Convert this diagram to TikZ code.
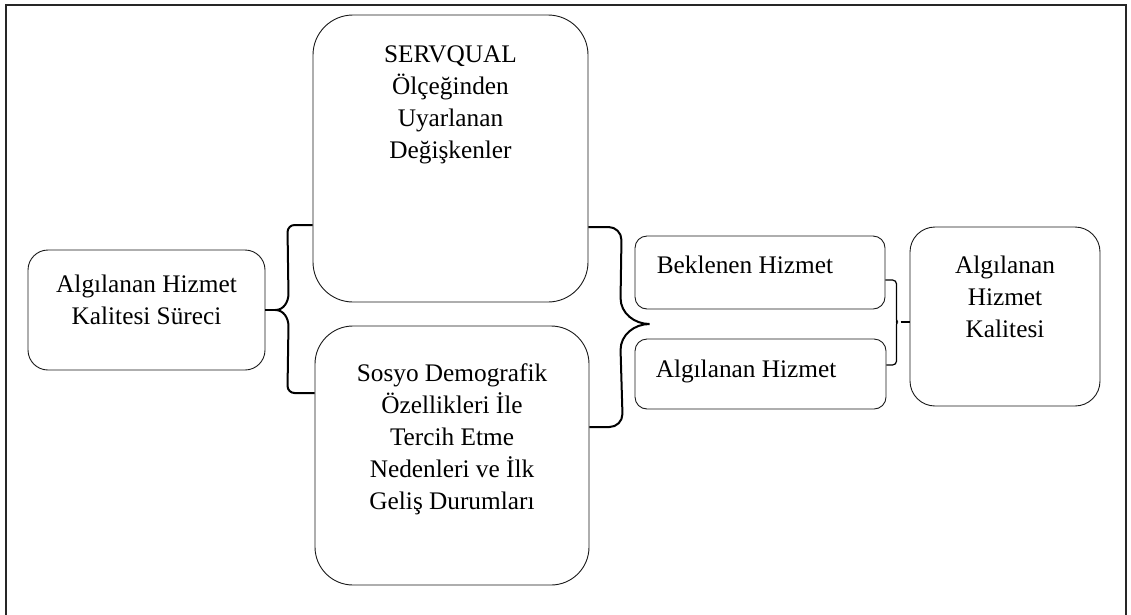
\documentclass[tikz,border=0pt]{standalone}
\usepackage{fontspec}
\setmainfont{Liberation Serif}
\usetikzlibrary{calc,positioning}
\newcommand\boxfont{\fontsize{25.3}{32}\selectfont}

\begin{document}
\begin{tikzpicture}[x=1pt, y=-1pt,
	pbox/.style={draw=black!90, line width=0.9pt, inner sep=0pt},
	txt/.style={inner sep=0pt, align=center, font=\boxfont},
	brc/.style={line width=2pt},
	thinbrc/.style={line width=1.2pt}]
	\useasboundingbox (0,0) rectangle (1131,614);
	\clip (0,0) rectangle (1131,614);
	\draw[line width=2.5pt, black!85] (6,5) rectangle (1126,640);

	\node[pbox, rounded corners=20pt, minimum width=237pt, minimum height=120pt] (sur) at (146.5,310) {};
	\node[pbox, rounded corners=40pt, minimum width=275pt, minimum height=287pt] (serv) at (450.5,158.5) {};
	\node[pbox, rounded corners=38pt, minimum width=274pt, minimum height=259pt] (sos) at (452,455.5) {};
	\node[pbox, rounded corners=12pt, minimum width=250pt, minimum height=73pt] (bek) at (760,272.5) {};
	\node[pbox, rounded corners=12pt, minimum width=251pt, minimum height=70pt] (alg) at (760.5,374) {};
	\node[pbox, rounded corners=25pt, minimum width=190pt, minimum height=179pt] (kal) at (1005,316.5) {};

	\node[txt, below=25pt of sur.north] (surT) {Algılanan Hizmet\\Kalitesi Süreci};
	\node[txt, below=31pt of serv.north] (servT) {SERVQUAL\\Ölçeğinden\\Uyarlanan\\Değişkenler};
	\node[txt, below=38pt of sos.north] (sosT) {Sosyo Demografik\\Özellikleri İle\\Tercih Etme\\Nedenleri ve İlk\\Geliş Durumları};
	\node[txt, below right=20pt and 22pt of bek.north west] (bekT) {Beklenen Hizmet};
	\node[txt, below right=21pt and 21pt of alg.north west] (algT) {Algılanan Hizmet};
	\node[txt, below=29pt of kal.north] (kalT) {Algılanan\\Hizmet\\Kalitesi};

	\coordinate (c1) at ($(sur.east)+(10,0)$);
	\draw[brc] ($(serv.west)+(0,66.5)$) -- ++(-18,0) to[out=180,in=90] ++(-7,7)
		-- ($(sur.east)+(23,-16)$) to[out=-90,in=0] (c1) to[out=0,in=90] ($(sur.east)+(23,16)$)
		-- ($(sos.west)+(-27,-69.5)$) to[out=-90,in=180] ++(7,7) -- ($(sos.west)+(0,-62.5)$);
	\draw[brc] (sur.east) -- (c1);

	\coordinate (tip2) at ($(bek.south west)!0.5!(alg.north west)+(15,0)$);
	\draw[brc] ($(serv.east)+(0,68.5)$) -- ++(20,0) to[out=0,in=90] ++(13,13)
		-- ($(tip2)+(-29,-26)$) to[out=-90,in=180] (tip2) to[out=180,in=90] ($(tip2)+(-29,26)$)
		-- ($(sos.east)+(33,-41.5)$) to[out=-90,in=0] ++(-13,13) -- ($(sos.east)+(0,-28.5)$);

	\coordinate (tip3) at ($(kal.west)+(0,5.5)$);
	\coordinate (c3) at ($(tip3)+(-9,0)$);
	\draw[thinbrc, rounded corners=4pt] ($(bek.east)+(0,7.5)$) -| ($(tip3)+(-13,-6)$)
		to[out=-90,in=180] (c3) to[out=180,in=90] ($(tip3)+(-13,6)$) |- ($(alg.east)+(0,-9)$);
	\draw[thinbrc] (c3) -- (tip3);
\end{tikzpicture}
\end{document}
